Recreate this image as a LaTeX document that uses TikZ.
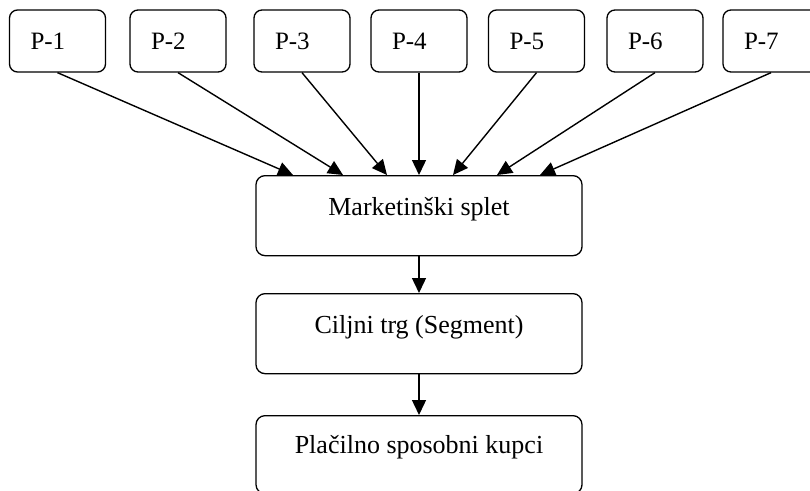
\documentclass[tikz,border=0pt]{standalone}
\usepackage{fontspec}
\setmainfont{Liberation Serif}
\usepackage{tikz}
\usetikzlibrary{arrows.meta,positioning,calc}
\tikzset{
  flow/.style={-{Triangle[length=15pt,width=14pt]},line width=1.4pt},
  pbox/.style={draw,line width=1.3pt,rounded corners=8pt,
    minimum width=96pt,minimum height=62pt,inner xsep=21pt,
    text width=54pt,align=left,font=\fontsize{25}{30}\selectfont}
}
\begin{document}
\begin{tikzpicture}[x=1pt,y=-1pt,
  bigbox/.style={draw,line width=1.3pt,rounded corners=9pt,
    minimum width=326pt,inner xsep=0pt,inner ysep=0pt,
    text height=40pt,text depth=40pt,font=\fontsize{26}{30}\selectfont}
]
  \useasboundingbox (0,0) rectangle (810,490);
  \clip (0,0) rectangle (810,490);
  \foreach \pnum/\px in {1/57.5,2/178,3/302,4/419,5/536.5,6/655,7/771}
    \node[pbox] (p\pnum) at (\px,41) {P-\pnum};
  \node[bigbox,anchor=north] (mix) at (419,175) {Marketinški splet};
  \node[bigbox,anchor=north] (segment) at (419,293) {Ciljni trg (Segment)};
  \node[bigbox,anchor=north,text height=38pt] (buyers) at (419,415) {Plačilno sposobni kupci};
  \foreach \pnum/\dx in {1/-126,2/-76,3/-32,4/0,5/34,6/78,7/121}
    \draw[flow] (p\pnum.south) -- ([xshift=\dx]mix.north);
  \draw[flow] (mix) -- (segment);
  \draw[flow] (segment) -- (buyers);
\end{tikzpicture}
\end{document}
